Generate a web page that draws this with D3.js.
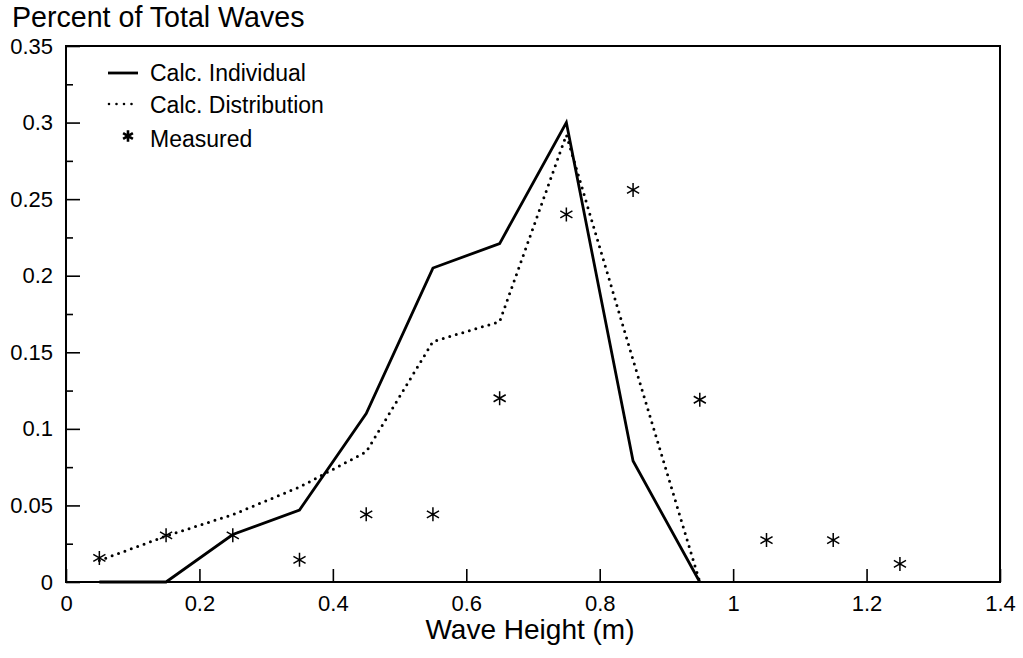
<!DOCTYPE html>
<html>
<head>
<meta charset="utf-8">
<script src="https://cdn.jsdelivr.net/npm/d3@7"></script>
<style>
  html, body { margin: 0; padding: 0; background: #fff; }
  svg { display: block; font-family: "Liberation Sans", Arial, Helvetica, sans-serif; }
</style>
</head>
<body>
<svg id="chart" width="1023" height="658"></svg>
<script>
// Wave height bins (m), bin centres
const waveHeight = [0.05, 0.15, 0.25, 0.35, 0.45, 0.55, 0.65, 0.75, 0.85, 0.95, 1.05, 1.15, 1.25];

// Calculated from individual waves (solid line)
const calcIndividual = [0, 0, 0.031, 0.047, 0.11, 0.205, 0.221, 0.30, 0.079, 0];
// Calculated from the distribution (dotted line)
const calcDistribution = [0.014, 0.030, 0.044, 0.062, 0.085, 0.157, 0.170, 0.292, 0.145, 0];
// Measured fractions (asterisks)
const measured = [0.0157, 0.0305, 0.0305, 0.0145, 0.0442, 0.0442, 0.12, 0.24, 0.256, 0.119, 0.0274, 0.0274, 0.0118];

const xTickValues = [0, 0.2, 0.4, 0.6, 0.8, 1, 1.2, 1.4];
const xTickLabels = ["0", "0.2", "0.4", "0.6", "0.8", "1", "1.2", "1.4"];
const yTickValues = [0, 0.05, 0.1, 0.15, 0.2, 0.25, 0.3, 0.35];
const yTickLabels = ["0", "0.05", "0.1", "0.15", "0.2", "0.25", "0.3", "0.35"];
const yMinorValues = [0.025, 0.075, 0.125, 0.175, 0.225, 0.275, 0.325];

const legendItems = ["Calc. Individual", "Calc. Distribution", "Measured"];

const svg = d3.select("#chart");
const plotLeft = 66, plotRight = 1000, plotTop = 46, plotBottom = 582;

const x = d3.scaleLinear().domain([0, 1.4]).range([plotLeft, plotRight]);
const y = d3.scaleLinear().domain([0, 0.35]).range([plotBottom, plotTop]);

// Frame
svg.append("rect")
  .attr("x", plotLeft).attr("y", plotTop)
  .attr("width", plotRight - plotLeft).attr("height", plotBottom - plotTop)
  .attr("fill", "none").attr("stroke", "#000").attr("stroke-width", 2);

// Y axis: inward ticks, major + minor
const yAxis = d3.axisLeft(y).tickValues(yTickValues)
  .tickSize(-14).tickPadding(13)
  .tickFormat((d, i) => yTickLabels[i]);
const gy = svg.append("g").attr("transform", `translate(${plotLeft},0)`).call(yAxis);
gy.select(".domain").remove();
gy.selectAll(".tick line").attr("stroke", "#000").attr("stroke-width", 1.6);
gy.selectAll(".tick text").attr("font-size", 22).attr("fill", "#000")
  .attr("font-family", "'Liberation Sans', Arial, sans-serif");

const yMinor = d3.axisLeft(y).tickValues(yMinorValues).tickSize(-7).tickFormat("");
const gym = svg.append("g").attr("transform", `translate(${plotLeft},0)`).call(yMinor);
gym.select(".domain").remove();
gym.selectAll(".tick line").attr("stroke", "#000").attr("stroke-width", 1.6);

// X axis: inward ticks
const xAxis = d3.axisBottom(x).tickValues(xTickValues)
  .tickSize(-13).tickPadding(13)
  .tickFormat((d, i) => xTickLabels[i]);
const gx = svg.append("g").attr("transform", `translate(0,${plotBottom})`).call(xAxis);
gx.select(".domain").remove();
gx.selectAll(".tick line").attr("stroke", "#000").attr("stroke-width", 1.6);
gx.selectAll(".tick text").attr("font-size", 22).attr("fill", "#000")
  .attr("font-family", "'Liberation Sans', Arial, sans-serif");

// Axis titles
svg.append("text")
  .attr("x", 12).attr("y", 27)
  .attr("font-size", 28.6)
  .text("Percent of Total Waves");

svg.append("text")
  .attr("x", 530).attr("y", 639)
  .attr("text-anchor", "middle")
  .attr("font-size", 28)
  .text("Wave Height (m)");

// Lines
const line = d3.line().x(d => x(d[0])).y(d => y(d[1]));

svg.append("path")
  .datum(calcIndividual.map((v, i) => [waveHeight[i], v]))
  .attr("d", line)
  .attr("fill", "none").attr("stroke", "#000")
  .attr("stroke-width", 2.8).attr("stroke-linejoin", "miter");

svg.append("path")
  .datum(calcDistribution.map((v, i) => [waveHeight[i], v]))
  .attr("d", line)
  .attr("fill", "none").attr("stroke", "#000")
  .attr("stroke-width", 3)
  .attr("stroke-linecap", "round")
  .attr("stroke-dasharray", "0 6.8");

// Measured asterisks
const star = d3.symbol().type(d3.symbolAsterisk).size(138);
svg.append("g").selectAll("path")
  .data(measured.map((v, i) => [waveHeight[i], v]))
  .join("path")
  .attr("transform", d => `translate(${x(d[0])},${y(d[1])})`)
  .attr("d", star)
  .attr("fill", "none").attr("stroke", "#000").attr("stroke-width", 1.5);

// Legend
const lg = svg.append("g");
lg.append("line").attr("x1", 108).attr("x2", 138).attr("y1", 73).attr("y2", 73)
  .attr("stroke", "#000").attr("stroke-width", 2.8);
lg.append("line").attr("x1", 109).attr("x2", 134).attr("y1", 104).attr("y2", 104)
  .attr("stroke", "#000").attr("stroke-width", 2.6)
  .attr("stroke-linecap", "round").attr("stroke-dasharray", "0 7.5");
lg.append("path")
  .attr("transform", "translate(128,136)")
  .attr("d", d3.symbol().type(d3.symbolAsterisk).size(90)())
  .attr("fill", "none").attr("stroke", "#000").attr("stroke-width", 2.6);

const legendY = [81, 113, 147];
lg.selectAll("text")
  .data(legendItems)
  .join("text")
  .attr("x", 150).attr("y", (d, i) => legendY[i])
  .attr("font-size", 23)
  .text(d => d);
</script>
</body>
</html>
